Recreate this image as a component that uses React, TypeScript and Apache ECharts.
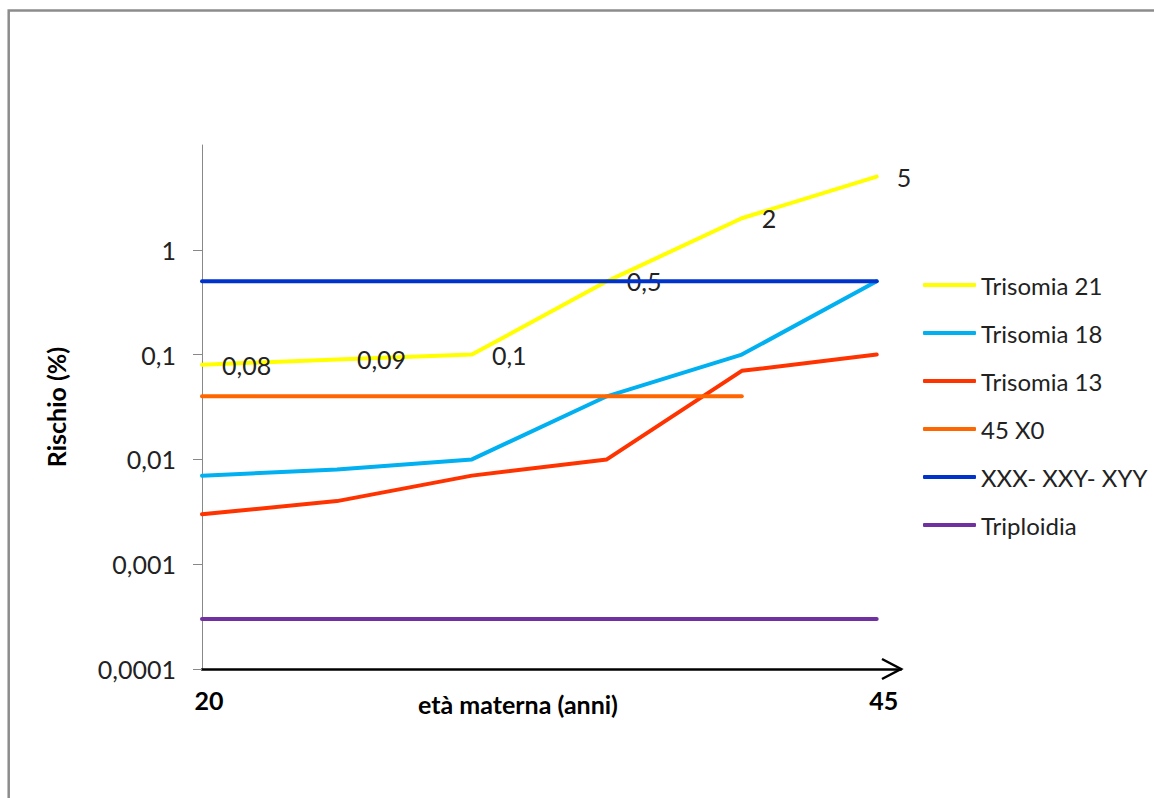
import React, { useEffect, useRef } from 'react';
import * as echarts from 'echarts';

const ages = [20, 25, 30, 35, 40, 45];
const trisomia21 = [0.08, 0.09, 0.1, 0.5, 2, 5];
const trisomia18 = [0.007, 0.008, 0.01, 0.04, 0.1, 0.5];
const trisomia13 = [0.003, 0.004, 0.007, 0.01, 0.07, 0.1];
const x45X0 = [0.04, 0.04, 0.04, 0.04, 0.04, null];
const xxxXxyXyy = [0.5, 0.5, 0.5, 0.5, 0.5, 0.5];
const triploidia = [0.0003, 0.0003, 0.0003, 0.0003, 0.0003, 0.0003];

const seriesNames = ['Trisomia 21', 'Trisomia 18', 'Trisomia 13', '45 X0', 'XXX- XXY- XYY', 'Triploidia'];
const seriesValues = [trisomia21, trisomia18, trisomia13, x45X0, xxxXxyXyy, triploidia];
const seriesColors = ['#FFFF00', '#00B0F0', '#FF3300', '#FF6600', '#0033CC', '#7030A0'];

const yTickValues = [0.0001, 0.001, 0.01, 0.1, 1];
const xTickValues = [20, 45];

const FONT = 'Lato, "Open Sans", sans-serif';

const fmt = (v: number) => String(Number(Number(v).toPrecision(6))).replace('.', ',');

export default function App() {
  const ref = useRef<HTMLDivElement>(null);
  useEffect(() => {
    if (!ref.current) return;
    const chart = echarts.init(ref.current, undefined, { renderer: 'svg' });
    const series = seriesNames.map((name, si) => ({
      name,
      type: 'line',
      symbol: 'circle',
      symbolSize: 0,
      showSymbol: true,
      data: ages
        .map((a, i) => (seriesValues[si][i] == null ? null : [a, seriesValues[si][i]]))
        .filter((d) => d !== null),
      lineStyle: { color: seriesColors[si], width: 4, cap: 'round', join: 'round' },
      itemStyle: { color: seriesColors[si] },
      label:
        si === 0
          ? {
              show: true,
              position: 'right',
              distance: 20,
              fontFamily: FONT,
              fontSize: 25,
              color: '#222',
              formatter: (p: any) => fmt(p.value[1]),
            }
          : { show: false },
      z: 2 + si,
    }));
    chart.setOption({
      animation: false,
      backgroundColor: '#fff',
      textStyle: { fontFamily: FONT },
      grid: { left: 202, top: 145, width: 699, height: 524 },
      legend: {
        orient: 'vertical',
        left: 918,
        top: 268,
        icon: 'roundRect',
        itemWidth: 53,
        itemHeight: 4,
        itemGap: 24,
        textStyle: { fontFamily: FONT, fontSize: 24, lineHeight: 24, color: '#222' },
        data: seriesNames,
      },
      xAxis: {
        type: 'value',
        min: 20,
        max: 45.9,
        splitLine: { show: false },
        axisLine: { show: true, lineStyle: { color: '#000', width: 2.5 } },
        axisTick: { show: false },
        axisLabel: {
          customValues: xTickValues,
          fontFamily: FONT,
          fontSize: 25,
          fontWeight: 'bold',
          color: '#000',
          margin: 18,
          padding: [0, 0, 0, 14],
        },
      },
      yAxis: {
        type: 'log',
        logBase: 10,
        min: 0.0001,
        max: 10,
        name: 'Rischio (%)',
        nameLocation: 'middle',
        nameRotate: 90,
        nameGap: 134,
        nameTextStyle: { fontFamily: FONT, fontSize: 25, fontWeight: 'bold', color: '#000' },
        splitLine: { show: false },
        axisLine: { show: true, lineStyle: { color: '#888', width: 1 } },
        axisTick: { show: true, length: 9, customValues: yTickValues, lineStyle: { color: '#888' } },
        axisLabel: {
          customValues: yTickValues,
          fontFamily: FONT,
          fontSize: 25,
          color: '#222',
          margin: 26,
          formatter: (v: number) => fmt(v),
        },
      },
      graphic: [
        {
          type: 'rect',
          shape: { x: 8.7, y: 10.5, width: 1300, height: 1000 },
          style: { fill: 'none', stroke: '#8c8c8c', lineWidth: 2.5 },
          silent: true,
        },
        {
          type: 'polyline',
          shape: { points: [[882, 659], [901, 669], [882, 679]] },
          style: { fill: 'none', stroke: '#000', lineWidth: 2.5 },
          silent: true,
        },
        {
          type: 'text',
          left: 418,
          top: 691,
          style: {
            text: 'età materna (anni)',
            font: 'bold 25px ' + FONT,
            fill: '#000',
          },
        },
      ],
      series,
    });
    return () => chart.dispose();
  }, []);
  return (
    <div
      ref={ref}
      style={{ position: 'fixed', left: 0, top: 0, width: 1154, height: 798, background: '#fff' }}
    />
  );
}
